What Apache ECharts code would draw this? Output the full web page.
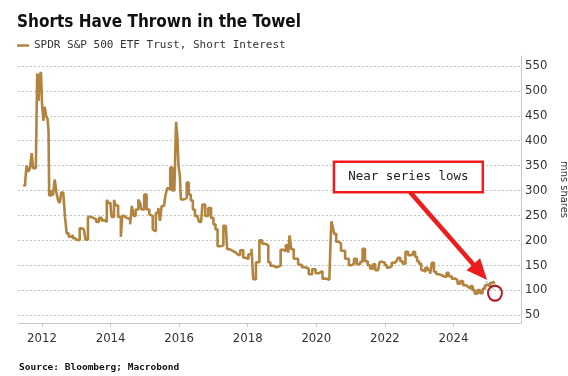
<!DOCTYPE html>
<html>
<head>
<meta charset="utf-8">
<script src="https://cdn.jsdelivr.net/npm/echarts@6/dist/echarts.min.js"></script>
<style>
  html, body { margin: 0; padding: 0; background: #fff; }
  #chart { width: 568px; height: 376px; }
</style>
</head>
<body>
<div id="chart"></div>
<script>
// SPY short interest (mns shares)
const dates = [
  2011.45, 2011.51, 2011.55, 2011.60, 2011.65, 2011.70, 2011.74, 2011.82, 2011.86, 2011.90,
  2011.93, 2011.97, 2012.00, 2012.04, 2012.08, 2012.12, 2012.16, 2012.19, 2012.21, 2012.27,
  2012.32, 2012.37, 2012.42, 2012.47, 2012.52, 2012.56, 2012.62, 2012.67, 2012.72, 2012.78,
  2012.84, 2012.90, 2012.96, 2013.02, 2013.10, 2013.16, 2013.22, 2013.27, 2013.34, 2013.42,
  2013.50, 2013.58, 2013.66, 2013.74, 2013.82, 2013.89, 2013.94, 2014.00, 2014.03, 2014.10,
  2014.15, 2014.22, 2014.30, 2014.34, 2014.40, 2014.47, 2014.57, 2014.62, 2014.67, 2014.73,
  2014.81, 2014.86, 2014.90, 2014.98, 2015.05, 2015.13, 2015.18, 2015.23, 2015.28, 2015.32,
  2015.39, 2015.44, 2015.49, 2015.56, 2015.60, 2015.65, 2015.70, 2015.74, 2015.80, 2015.86,
  2015.91, 2015.95, 2015.98, 2016.02, 2016.05, 2016.12, 2016.22, 2016.28, 2016.34, 2016.40,
  2016.46, 2016.53, 2016.58, 2016.64, 2016.68, 2016.76, 2016.85, 2016.93, 2017.00, 2017.06,
  2017.12, 2017.20, 2017.29, 2017.36, 2017.40, 2017.48, 2017.56, 2017.64, 2017.70, 2017.78,
  2017.87, 2017.95, 2018.02, 2018.11, 2018.16, 2018.24, 2018.34, 2018.42, 2018.52, 2018.60,
  2018.66, 2018.74, 2018.84, 2018.96, 2019.04, 2019.11, 2019.18, 2019.22, 2019.27, 2019.34,
  2019.47, 2019.58, 2019.68, 2019.78, 2019.88, 2019.98, 2020.08, 2020.18, 2020.30, 2020.38,
  2020.42, 2020.44, 2020.48, 2020.52, 2020.58, 2020.66, 2020.72, 2020.84, 2020.95, 2021.03,
  2021.10, 2021.18, 2021.28, 2021.35, 2021.42, 2021.50, 2021.57, 2021.65, 2021.72, 2021.80,
  2021.85, 2021.92, 2022.00, 2022.06, 2022.12, 2022.20, 2022.27, 2022.33, 2022.38, 2022.45,
  2022.52, 2022.60, 2022.68, 2022.76, 2022.82, 2022.88, 2022.94, 2023.00, 2023.06, 2023.12,
  2023.18, 2023.25, 2023.32, 2023.37, 2023.43, 2023.50, 2023.58, 2023.66, 2023.73, 2023.80,
  2023.86, 2023.95, 2024.05, 2024.12, 2024.20, 2024.28, 2024.36, 2024.42, 2024.50, 2024.56,
  2024.62, 2024.70, 2024.77, 2024.85, 2024.92, 2025.00, 2025.06, 2025.12, 2025.18
];
const shortInterest = [
  310, 318, 350, 338, 345, 375, 345, 342, 535, 480,
  530, 538, 475, 440, 468, 450, 445, 420, 290, 300,
  290, 322, 296, 280, 275, 296, 292, 247, 214, 207,
  210, 204, 201, 200, 224, 222, 224, 201, 247, 245,
  242, 237, 245, 240, 237, 281, 275, 268, 247, 281,
  270, 247, 207, 249, 245, 242, 232, 269, 249, 262,
  282, 275, 262, 292, 262, 252, 249, 222, 218, 255,
  265, 239, 269, 272, 290, 305, 302, 346, 300, 303,
  438, 405, 350, 330, 282, 285, 316, 292, 280, 262,
  249, 252, 237, 235, 272, 249, 265, 245, 232, 222,
  188, 190, 229, 225, 182, 179, 176, 172, 170, 180,
  165, 162, 172, 183, 122, 156, 200, 193, 190, 156,
  149, 146, 149, 181, 178, 190, 175, 210, 182, 163,
  151, 146, 143, 132, 142, 134, 138, 123, 121, 123,
  205, 238, 226, 213, 197, 193, 179, 163, 150, 153,
  163, 152, 157, 183, 158, 150, 143, 152, 140, 140,
  157, 155, 150, 145, 148, 155, 157, 160, 165, 158,
  153, 177, 170, 172, 177, 167, 158, 153, 140, 137,
  145, 140, 133, 155, 137, 132, 130, 127, 127, 135,
  128, 123, 120, 113, 118, 110, 107, 103, 108, 100,
  93, 100, 94, 103, 110, 108, 114, 117, 113
];
const yearTicks = [2012, 2014, 2016, 2018, 2020, 2022, 2024];
const valueTicks = [50, 100, 150, 200, 250, 300, 350, 400, 450, 500, 550];

// annotation anchors (data coords)
const calloutAt = [2022.685, 327];
const arrowFrom = [2022.73, 297];
const arrowHead = [2024.78, 136];   // centre of the arrow head
const arrowTip = [2024.94, 118];
const lowAt = [2025.21, 94];

const seriesData = dates.map((d, i) => [d, shortInterest[i]]);

const chart = echarts.init(document.getElementById('chart'));
const axisFont = "'DejaVu Sans Condensed', 'DejaVu Sans', sans-serif";
const monoFont = "'DejaVu Sans Mono', monospace";

chart.setOption({
  animation: false,
  backgroundColor: '#fff',
  title: [
    {
      text: 'Shorts Have Thrown in the Towel',
      left: 12, top: 9,
      textStyle: { fontFamily: axisFont, fontWeight: 'bold', fontSize: 17, color: '#111' }
    },
    {
      text: 'Source: Bloomberg; Macrobond',
      left: 14, top: 358,
      textStyle: { fontFamily: monoFont, fontWeight: 'bold', fontSize: 9.5, color: '#111' }
    }
  ],
  legend: {
    left: 12, top: 35,
    icon: 'rect', itemWidth: 12, itemHeight: 2.5,
    textStyle: { fontFamily: monoFont, fontSize: 11, color: '#333' },
    data: ['SPDR S&P 500 ETF Trust, Short Interest']
  },
  grid: { left: 18, right: 47, top: 56, bottom: 53, outerBoundsMode: 'none' },
  xAxis: {
    type: 'value',
    min: 2011.30, max: 2025.97,
    axisLine: { show: true, lineStyle: { color: '#c8c8c8' } },
    axisTick: { show: true, length: 4, customValues: yearTicks, lineStyle: { color: '#c8c8c8' } },
    axisLabel: {
      customValues: yearTicks, margin: 9,
      formatter: v => String(v),
      fontFamily: axisFont, fontSize: 13, color: '#333'
    },
    splitLine: { show: false }
  },
  yAxis: {
    type: 'value',
    position: 'right',
    min: 34, max: 570,
    name: 'mns shares',
    nameLocation: 'middle',
    nameRotate: -90,
    nameGap: 37,
    nameTextStyle: { fontFamily: axisFont, fontSize: 11, color: '#333' },
    axisLine: { show: true, lineStyle: { color: '#c8c8c8' } },
    axisTick: { show: false, customValues: valueTicks },
    axisLabel: { customValues: valueTicks, margin: 4, fontFamily: axisFont, fontSize: 13, color: '#333' },
    splitLine: { show: true, lineStyle: { color: '#c4c4c4', type: [2, 2], width: 1 } }
  },
  series: [
    {
      name: 'SPDR S&P 500 ETF Trust, Short Interest',
      type: 'line',
      step: 'end',
      showSymbol: false,
      data: seriesData,
      lineStyle: { color: '#b3843f', width: 2.6 },
      itemStyle: { color: '#b3843f' },
      markLine: {
        silent: true,
        animation: false,
        symbol: ['none', 'triangle'],
        symbolSize: [18, 21],
        label: { show: false },
        lineStyle: { color: '#ee1c1c', width: 4.5, type: 'solid' },
        data: [[{ coord: arrowFrom }, { coord: arrowHead }]]
      },
      markPoint: {
        silent: true,
        animation: false,
        data: [
          {
            coord: lowAt,
            symbol: 'circle',
            symbolSize: [14, 15],
            itemStyle: { color: 'rgba(0,0,0,0)', borderColor: '#b3141e', borderWidth: 2 },
            label: { show: false }
          },
          {
            coord: calloutAt,
            symbol: 'rect',
            symbolSize: 0,
            label: {
              show: true,
              position: 'inside',
              formatter: 'Near series lows',
              fontFamily: monoFont,
              fontSize: 12.5,
              lineHeight: 15,
              color: '#222',
              backgroundColor: '#fff',
              borderColor: '#ee1c1c',
              borderWidth: 2.5,
              padding: [7, 13, 6, 13]
            }
          }
        ]
      }
    },
    {
      // thin connector from the arrow tip into the circle
      name: 'connector',
      type: 'line',
      data: [],
      silent: true,
      markLine: {
        silent: true,
        animation: false,
        symbol: ['none', 'none'],
        label: { show: false },
        lineStyle: { color: '#7f9aa6', width: 1, type: 'solid' },
        data: [[{ coord: arrowTip }, { coord: [lowAt[0] - 0.03, lowAt[1] + 7] }]]
      }
    }
  ]
});
</script>
</body>
</html>
